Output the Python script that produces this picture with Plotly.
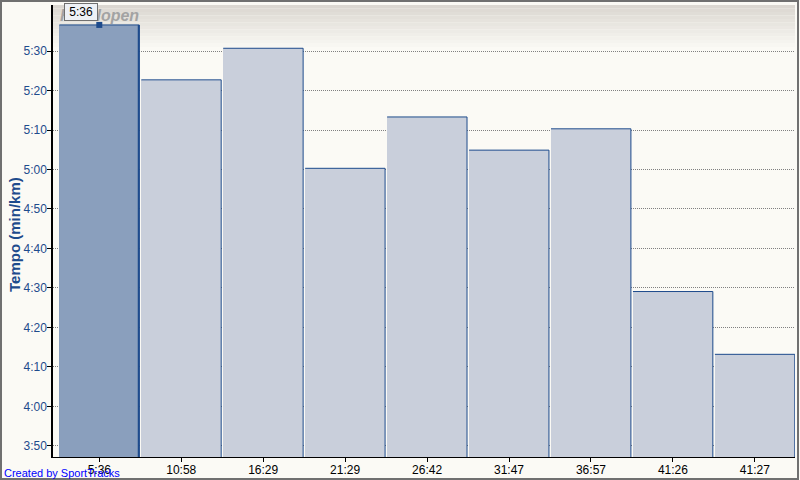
import plotly.graph_objects as go

# ---- data ----
categories = ["5:36", "10:58", "16:29", "21:29", "26:42", "31:47", "36:57", "41:26", "41:27"]
pace_seconds = [336.6, 322.7, 330.7, 300.3, 313.3, 304.9, 310.3, 269.1, 253.2]
ytick_seconds = [230, 240, 250, 260, 270, 280, 290, 300, 310, 320, 330]
ytick_labels = ["3:50", "4:00", "4:10", "4:20", "4:30", "4:40", "4:50", "5:00", "5:10", "5:20", "5:30"]
highlight_index = 0
tooltip_text = "5:36"
chart_title = "Hardlopen"
y_title = "Tempo (min/km)"
credit = "Created by SportTracks"

# ---- style ----
W, H = 800, 480
ML, MR, MT, MB = 53, 5, 5, 23
PW, PH = W - ML - MR, H - MT - MB
BG = "#FBFAF5"
BAR = "#C9CFDB"
BAR_HI = "#8A9FBD"
EDGE = "#1E4B8C"
BAR_W = 0.975
FONT = "Liberation Sans"

idx = list(range(len(categories)))
colors = [BAR_HI if i == highlight_index else BAR for i in idx]

fig = go.Figure()
fig.add_trace(go.Bar(x=idx, y=pace_seconds, width=BAR_W, marker=dict(color=colors, line=dict(width=0)),
                     hoverinfo="skip"))

# top + right outline of each bar (derived from the data)
ox, oy = [], []
for i, v in zip(idx, pace_seconds):
    ox += [i - BAR_W / 2, i + BAR_W / 2, i + BAR_W / 2, None]
    oy += [v, v, 0, None]
fig.add_trace(go.Scatter(x=ox, y=oy, mode="lines", line=dict(color=EDGE, width=1), hoverinfo="skip"))
hv = pace_seconds[highlight_index]
fig.add_trace(go.Scatter(x=[highlight_index + BAR_W / 2 - 0.006] * 2, y=[hv, 0], mode="lines",
                         line=dict(color=EDGE, width=2), hoverinfo="skip"))
fig.add_trace(go.Scatter(x=[highlight_index], y=[hv], mode="markers",
                         marker=dict(symbol="square", size=6, color=EDGE), hoverinfo="skip"))

# gradient band at the top of the plot area
n = 12
band_px = 42
for k in range(n):
    t = k / (n - 1)
    c0, c1 = (0xDB, 0xD7, 0xD1), (0xF8, 0xF7, 0xF2)
    col = "rgb(%d,%d,%d)" % tuple(round(a + (b - a) * t) for a, b in zip(c0, c1))
    y1 = 1 - (k * band_px / n) / PH
    y0 = 1 - ((k + 1) * band_px / n) / PH
    fig.add_shape(type="rect", xref="paper", yref="paper", x0=0, x1=1, y0=y0, y1=y1,
                  fillcolor=col, line=dict(width=0), layer="below")

# outer frame
fig.add_shape(type="rect", xref="paper", yref="paper",
              x0=(1 - ML) / PW, x1=(798 - ML) / PW, y0=(PH + MT - 479) / PH, y1=(PH + MT - 1) / PH,
              line=dict(color="#707070", width=2), fillcolor="rgba(0,0,0,0)")

fig.add_annotation(xref="paper", yref="paper", x=5 / PW, y=1 - 10 / PH, xanchor="left", yanchor="middle",
                   text="<b><i>%s</i></b>" % chart_title, showarrow=False,
                   font=dict(family=FONT, size=16, color="#A3A3A3"))
fig.add_annotation(xref="x", yref="y", x=highlight_index, y=hv, xanchor="right", yanchor="bottom",
                   xshift=-1, yshift=4, text="&nbsp;" + tooltip_text + "&nbsp;", showarrow=False,
                   bgcolor="#EEF1F5", bordercolor="#707070", borderwidth=1, borderpad=1,
                   font=dict(family=FONT, size=12, color="#000000"))
fig.add_annotation(xref="paper", yref="paper", x=-51 / PW, y=-(481 - MT - PH) / PH,
                   xanchor="left", yanchor="bottom", text=credit, showarrow=False,
                   font=dict(family=FONT, size=11, color="#0000FF"))
fig.add_annotation(xref="paper", yref="paper", x=-39 / PW, y=0.5 - 4 / PH, xanchor="center", yanchor="middle",
                   text="<b>%s</b>" % y_title, textangle=-90, showarrow=False,
                   font=dict(family=FONT, size=15, color=EDGE))

fig.update_layout(
    width=W, height=H, margin=dict(l=ML, r=MR, t=MT, b=MB, pad=0, autoexpand=False),
    paper_bgcolor=BG, plot_bgcolor=BG, showlegend=False, bargap=0,
    font=dict(family=FONT, size=12),
    xaxis=dict(range=[-0.565, 8.49], tickvals=idx, ticktext=categories, showgrid=False, zeroline=False,
               automargin=False,
               showline=True, linecolor="#000000", linewidth=1, ticks="outside", ticklen=4,
               ticklabelstandoff=-2,
               tickcolor="#000000", tickfont=dict(family=FONT, size=12, color="#000000")),
    yaxis=dict(range=[227.2, 341.65], tickvals=ytick_seconds, ticktext=ytick_labels, showgrid=True,
               automargin=False,
               gridcolor="#808080", griddash="1px,1px", gridwidth=1, zeroline=False,
               showline=True, linecolor="#000000", linewidth=1.5, ticks="outside", ticklen=4,
               ticklabelstandoff=-2,
               tickcolor="#000000", tickfont=dict(family=FONT, size=12, color=EDGE)),
)

fig.write_html("out.html", config={"displayModeBar": False},
               post_script="document.body.style.margin='0';")
